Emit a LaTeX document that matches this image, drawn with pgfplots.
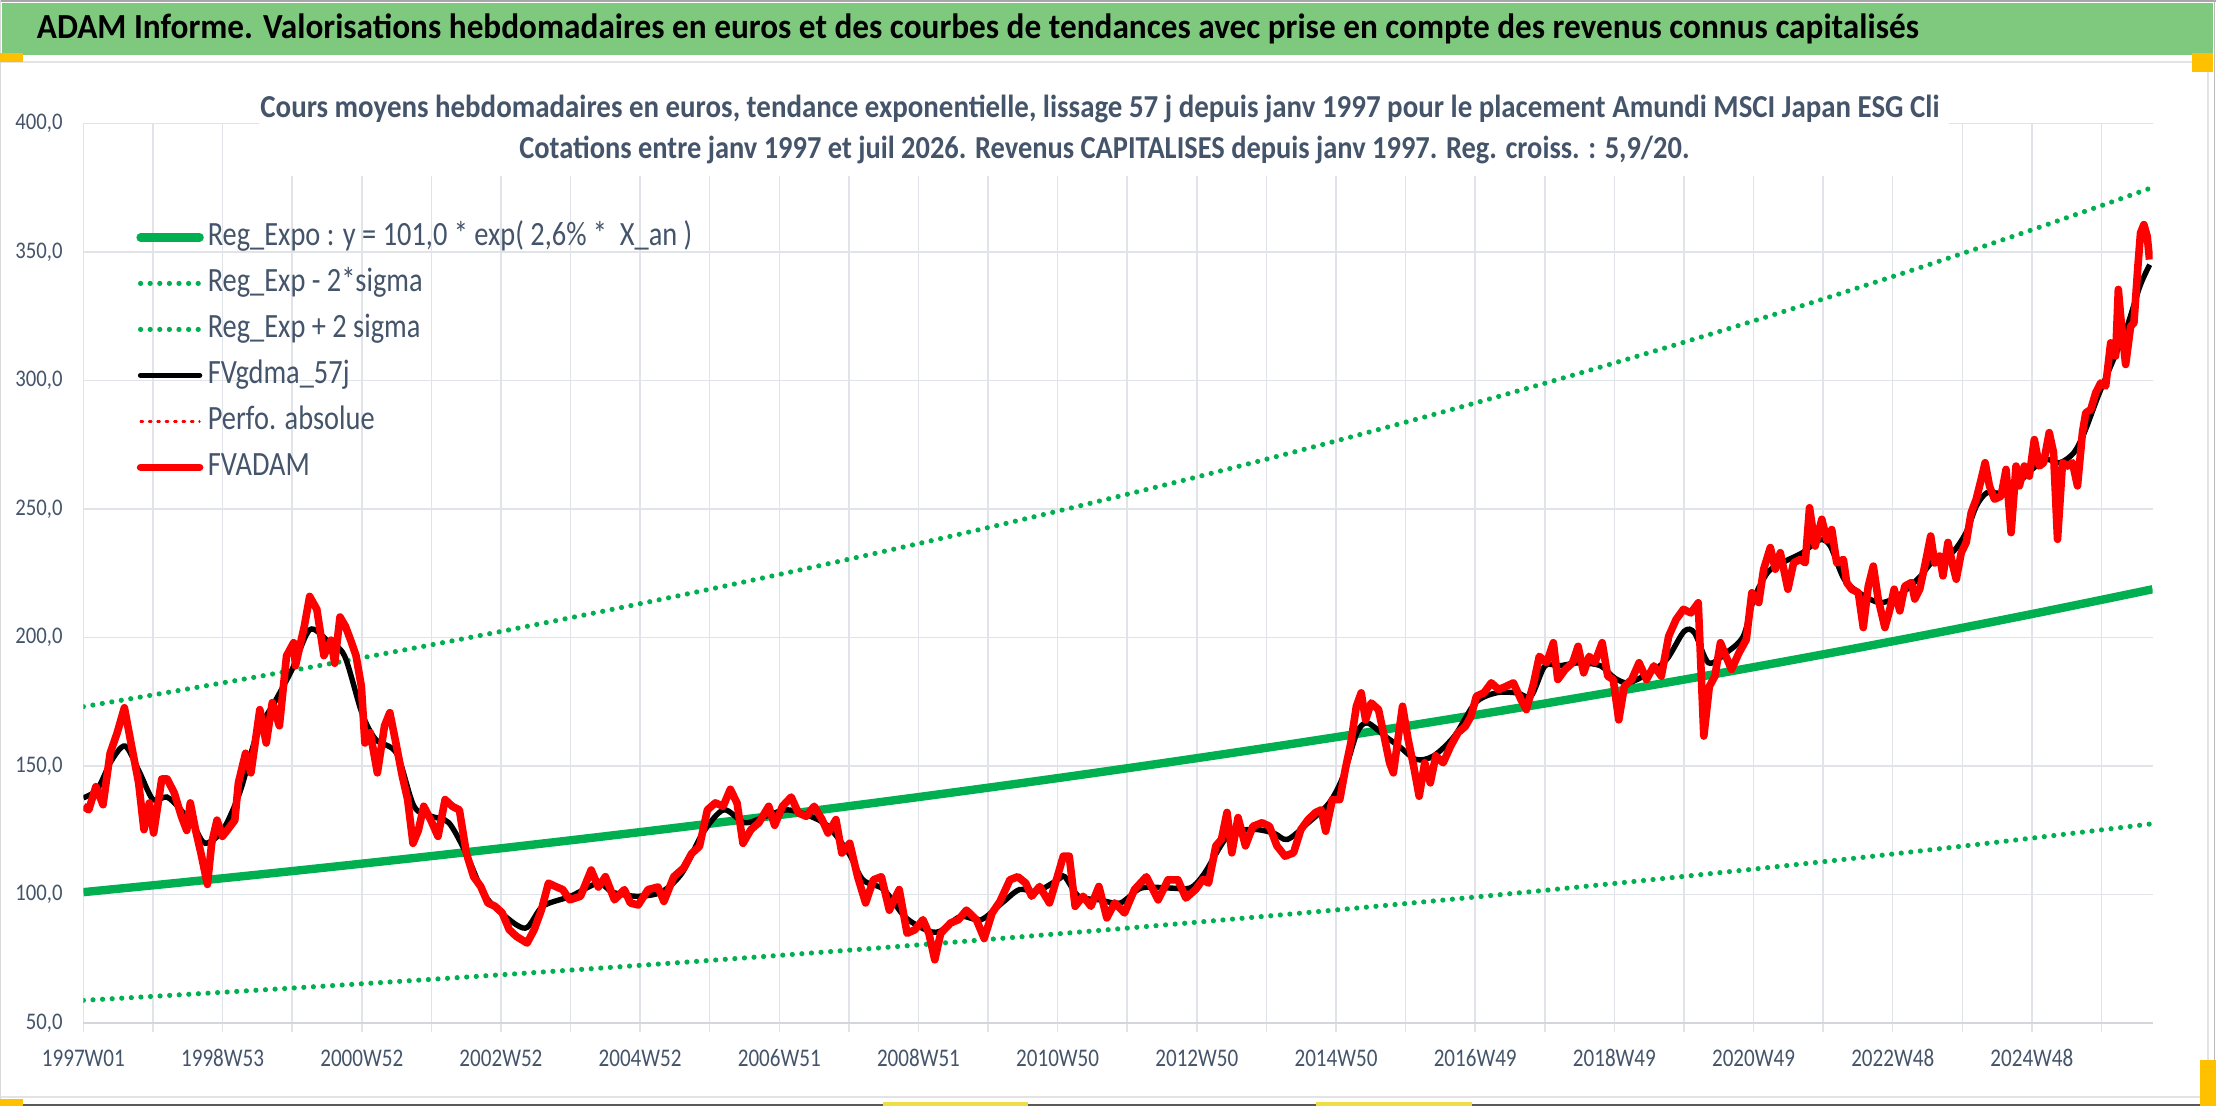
\documentclass[border=0pt]{standalone}
\usepackage{pgfplots}
\pgfplotsset{compat=1.18}
\usepackage{fontspec}
\setmainfont{Carlito}
\usepackage{graphicx}

\definecolor{slate}{HTML}{44546A}
\definecolor{gridc}{HTML}{E0E3E8}
\definecolor{basec}{HTML}{D3D6DB}
\definecolor{bannerg}{HTML}{7FC97F}
\definecolor{xlgreen}{HTML}{00B050}
\definecolor{handle}{HTML}{FFC000}
\definecolor{handle2}{HTML}{EEDD44}

\newcommand\xl[1]{\scalebox{0.83}[1]{#1}}
\newcommand\yl[1]{\scalebox{0.87}[1]{#1}}
\newcommand\lgd[1]{\scalebox{0.835}[1]{#1}}

\begin{document}
\begin{tikzpicture}
\useasboundingbox (0,0) rectangle (1108pt,553pt);
% ---------- background, frame and banner (pixel coordinates, y downward)
\begin{scope}[x=0.5pt,y=-0.5pt,shift={(0pt,553pt)}]
  \fill[white] (0,0) rectangle (2216,1106);
  \fill[bannerg] (2,3) rectangle (2213,55);
  \draw[gray!70, line width=1pt] (0,1) -- (2216,1);
  \draw[gray!30, line width=0.6pt] (0.6,0) -- (0.6,1106);
  \draw[gray!55, line width=0.8pt] (2214.5,0) -- (2214.5,1106);
  \draw[black!65, line width=1.2pt] (0,1104.8) -- (2216,1104.8);
  \draw[gray!22, line width=1.2pt] (1,62) -- (2208,62) -- (2208,1097) -- (1,1097);
  \fill[handle] (0,53) rectangle (23,62);
  \fill[handle] (2192,53) rectangle (2213,72);
  \fill[handle] (0,1099) rectangle (23,1106);
  \fill[handle] (2200,1060) rectangle (2216,1106);
  \fill[handle2] (883,1102) rectangle (1028,1106);
  \fill[handle2] (1316,1102) rectangle (1472,1106);
  \node[anchor=base west, inner sep=0pt, text=black] at (36.5,39)
    {\resizebox{941pt}{\height}{\fontsize{17.6}{18}\selectfont\bfseries ADAM Informe. Valorisations hebdomadaires en euros et des courbes de tendances avec prise en compte des revenus connus capitalisés}};
\end{scope}

\begin{axis}[
  at={(41.7pt,41.35pt)}, anchor=south west,
  scale only axis, width=1034.55pt, height=450pt,
  xmin=1997, xmax=2026.73, ymin=50, ymax=400,
  axis x line*=bottom, axis y line*=left,
  x axis line style={draw=basec, line width=1.2pt, -},
  y axis line style={draw=none},
  xtick={1997,...,2026},
  xticklabels={\xl{1997W01},,\xl{1998W53},,\xl{2000W52},,\xl{2002W52},,\xl{2004W52},,\xl{2006W51},,\xl{2008W51},,\xl{2010W50},,\xl{2012W50},,\xl{2014W50},,\xl{2016W49},,\xl{2018W49},,\xl{2020W49},,\xl{2022W48},,\xl{2024W48},},
  ytick={50,100,150,200,250,300,350,400},
  yticklabels={{\yl{50,0}},{\yl{100,0}},{\yl{150,0}},{\yl{200,0}},{\yl{250,0}},{\yl{300,0}},{\yl{350,0}},{\yl{400,0}}},
  grid=major, major grid style={draw=gridc, line width=0.75pt},
  tick align=outside, major tick length=4.2pt,
  xtick style={draw=gridc, line width=0.75pt},
  ytick style={draw=none},
  x tick label style={font=\fontsize{12.7}{13}\selectfont, text=slate, anchor=center, inner sep=0pt, yshift=-13.3pt},
  y tick label style={font=\fontsize{11.9}{12}\selectfont, text=slate, anchor=east, inner sep=0pt, xshift=-6pt},
  legend style={at={(axis description cs:0.02542,0.8914)}, anchor=north west, draw=none, fill=none,
     inner sep=0pt, row sep=7pt, column sep=2pt,
     nodes={inner sep=0pt, text height=12pt, text depth=4pt, font=\fontsize{17}{17}\selectfont, text=slate},
     cells={anchor=west}},
  legend image code/.code={\draw[#1, line cap=round] (1.5pt,0pt) -- (31pt,0pt);},
]
% Reg_Expo
\addplot[xlgreen, line width=4.2pt, smooth] coordinates {
(1997,101.00) (1998,103.66) (1999,106.39) (2000,109.19) (2001,112.07) (2002,115.02) (2003,118.05) (2004,121.16) (2005,124.35) (2006,127.63) (2007,130.99) (2008,134.44) (2009,137.98) (2010,141.62) (2011,145.35) (2012,149.18) (2013,153.11) (2014,157.14) (2015,161.28) (2016,165.53) (2017,169.89) (2018,174.37) (2019,178.96) (2020,183.67) (2021,188.51) (2022,193.48) (2023,198.57) (2024,203.81) (2025,209.17) (2026,214.69) (2026.73,218.79)};
\addlegendentry{\lgd{Reg\_Expo : y = 101,0 * exp( 2,6\% *\ \ X\_an )}}
% Reg_Exp - 2 sigma
\addplot[xlgreen, line width=2.6pt, dash pattern=on 0pt off 4.8pt, line cap=round, smooth] coordinates {
(1997,58.92) (1998,60.47) (1999,62.06) (2000,63.70) (2001,65.37) (2002,67.10) (2003,68.86) (2004,70.68) (2005,72.54) (2006,74.45) (2007,76.41) (2008,78.43) (2009,80.49) (2010,82.61) (2011,84.79) (2012,87.02) (2013,89.31) (2014,91.67) (2015,94.08) (2016,96.56) (2017,99.10) (2018,101.71) (2019,104.39) (2020,107.14) (2021,109.97) (2022,112.86) (2023,115.83) (2024,118.89) (2025,122.02) (2026,125.23) (2026.73,127.62)};
\addlegendentry{\lgd{Reg\_Exp - 2*sigma}}
% Reg_Exp + 2 sigma
\addplot[xlgreen, line width=2.6pt, dash pattern=on 0pt off 4.8pt, line cap=round, smooth] coordinates {
(1997,173.14) (1998,177.70) (1999,182.39) (2000,187.19) (2001,192.12) (2002,197.18) (2003,202.38) (2004,207.71) (2005,213.18) (2006,218.80) (2007,224.56) (2008,230.48) (2009,236.55) (2010,242.78) (2011,249.17) (2012,255.74) (2013,262.47) (2014,269.39) (2015,276.48) (2016,283.77) (2017,291.24) (2018,298.91) (2019,306.79) (2020,314.87) (2021,323.16) (2022,331.68) (2023,340.42) (2024,349.38) (2025,358.59) (2026,368.03) (2026.73,375.07)};
\addlegendentry{\lgd{Reg\_Exp + 2 sigma}}
% FVgdma_57j (smoothed)
\addplot[black, line width=2.7pt, smooth, tension=0.5] coordinates {
(1997.0,137.7) (1997.2,141) (1997.4,152) (1997.6,157.8) (1997.8,148) (1998.0,137) (1998.2,138) (1998.4,133) (1998.6,126) (1998.75,120) (1999.0,125) (1999.25,140) (1999.5,163) (1999.75,175) (2000.0,187.7) (2000.25,203) (2000.5,199) (2000.75,193) (2001.0,170.8) (2001.2,160.4) (2001.5,155) (2001.75,134.4) (2002.0,130.5) (2002.25,128) (2002.5,116) (2002.75,100.6) (2003.0,93) (2003.35,87) (2003.6,95.5) (2004.0,99.4) (2004.4,104.5) (2004.6,101) (2004.95,99.4) (2005.3,101) (2005.6,108.4) (2005.9,124) (2006.2,133) (2006.5,128) (2006.8,130.5) (2007.1,133) (2007.4,131) (2007.7,126.6) (2008.0,116) (2008.2,105.8) (2008.5,102) (2008.8,91.5) (2009.1,86.4) (2009.3,85.7) (2009.6,91.5) (2009.9,90.3) (2010.2,96.8) (2010.45,102) (2010.7,101.3) (2011.0,105.8) (2011.1,107) (2011.3,99.4) (2011.6,98) (2011.9,96.8) (2012.2,102.6) (2012.6,102.6) (2012.9,102.6) (2013.1,108) (2013.45,123) (2013.8,125.4) (2014.1,124) (2014.3,121.5) (2014.6,128) (2014.9,135.7) (2015.1,146) (2015.3,163) (2015.45,166.8) (2015.7,161.7) (2015.9,157.8) (2016.15,152.6) (2016.4,154) (2016.7,161.7) (2017.0,174.6) (2017.3,178.5) (2017.6,178.5) (2017.8,177.2) (2018.0,189) (2018.2,189) (2018.5,190.2) (2018.8,189) (2019.0,184.3) (2019.2,182.4) (2019.5,186.3) (2019.75,191.5) (2020.0,202.4) (2020.15,201.8) (2020.35,190.2) (2020.6,194) (2020.85,200.5) (2021.0,215) (2021.2,225.3) (2021.4,229) (2021.7,233) (2021.95,238) (2022.1,235.6) (2022.3,222.7) (2022.55,216.8) (2022.8,213.6) (2023.0,215) (2023.2,218.8) (2023.4,224) (2023.6,230.4) (2023.85,233) (2024.05,240.8) (2024.2,251.2) (2024.35,256.3) (2024.55,256.3) (2024.8,260.2) (2025.0,265.4) (2025.2,269.3) (2025.4,268) (2025.6,271.9) (2025.75,279.7) (2025.95,294) (2026.15,306.9) (2026.35,319.8) (2026.55,336.7) (2026.69,345)};
\addlegendentry{\lgd{FVgdma\_57j}}
% Perfo. absolue (legend only)
\addlegendimage{red, line width=1.1pt, dash pattern=on 1.2pt off 3pt}
\addlegendentry{\lgd{Perfo. absolue}}
% FVADAM
\addplot[red, line width=3.8pt, line join=round] coordinates {
(1997.000,134.4) (1997.077,133) (1997.179,142) (1997.282,135) (1997.384,155) (1997.486,163) (1997.589,172.7) (1997.691,158) (1997.794,143.5) (1997.870,125.3) (1997.947,135.7) (1998.009,124) (1998.126,145) (1998.203,145) (1998.306,139.6) (1998.408,130.5) (1998.485,125) (1998.536,135.7) (1998.613,125) (1998.690,116) (1998.782,104) (1998.843,120) (1998.920,129) (1998.997,122.7) (1999.074,125.3) (1999.176,129) (1999.227,143.5) (1999.330,155) (1999.407,147.4) (1999.535,172) (1999.627,159) (1999.714,174.7) (1999.816,165.7) (1999.919,192.9) (2000.021,198) (2000.047,189) (2000.175,204.5) (2000.251,216) (2000.354,211) (2000.456,193) (2000.559,199) (2000.610,190) (2000.687,208) (2000.763,204.5) (2000.840,199) (2000.917,193) (2000.994,181) (2001.045,159) (2001.122,163) (2001.224,147.4) (2001.327,165.7) (2001.403,170.8) (2001.480,160.4) (2001.583,146) (2001.659,137) (2001.736,120) (2001.813,125) (2001.890,134.4) (2001.992,129) (2002.095,122.7) (2002.197,137) (2002.300,134.4) (2002.402,133) (2002.504,116) (2002.607,107) (2002.709,103.2) (2002.812,96.8) (2002.914,95.5) (2003.016,93) (2003.119,86.4) (2003.221,83.8) (2003.375,81.2) (2003.477,86.4) (2003.580,94) (2003.682,104.5) (2003.784,103.2) (2003.887,102) (2003.989,98) (2004.143,99.4) (2004.296,109.6) (2004.399,103) (2004.501,107)
(2004.631,98) (2004.773,102) (2004.858,96.8) (2004.972,96) (2005.114,102) (2005.256,103) (2005.341,97.4) (2005.483,107) (2005.625,110.4) (2005.739,116) (2005.852,118.8) (2005.966,133) (2006.080,135.7) (2006.193,134.4) (2006.295,141) (2006.392,135.7) (2006.477,120) (2006.591,125.3) (2006.705,128) (2006.847,134.4) (2006.932,127) (2007.045,134.4) (2007.170,138) (2007.273,131.8) (2007.386,130.5) (2007.500,134.4) (2007.614,129.2) (2007.699,124) (2007.813,129.2) (2007.898,116.2) (2008.011,120) (2008.125,107) (2008.239,96.8) (2008.352,105.8) (2008.466,107) (2008.580,94) (2008.722,102) (2008.835,85) (2008.949,86.4) (2009.063,90.3) (2009.148,85) (2009.233,74.7) (2009.318,85) (2009.460,89) (2009.574,90.3) (2009.688,94) (2009.830,90.3) (2009.943,83) (2010.057,92.9) (2010.170,97.4) (2010.313,105.8) (2010.426,107) (2010.540,104.5) (2010.625,99.4) (2010.739,103.2) (2010.881,96.8) (2010.994,107) (2011.080,115) (2011.165,115) (2011.250,95.5) (2011.364,99.4) (2011.477,95.5) (2011.591,103.2) (2011.705,91) (2011.818,96.8) (2011.960,92.9) (2012.102,102) (2012.273,107) (2012.443,98) (2012.585,105.8) (2012.727,105.8) (2012.841,98.7)
(2012.980,102) (2013.087,106) (2013.166,104.5) (2013.272,119) (2013.352,121.5) (2013.432,132) (2013.501,116.3) (2013.591,130) (2013.697,119) (2013.804,126.6) (2013.936,128) (2014.042,126.6) (2014.149,119) (2014.266,115) (2014.388,116.3) (2014.494,125.4) (2014.600,129.3) (2014.706,132) (2014.786,133) (2014.850,124.7) (2014.945,137) (2015.052,137) (2015.131,148.7) (2015.211,159) (2015.291,173.3) (2015.360,178.5) (2015.423,168) (2015.503,174.6) (2015.609,172) (2015.689,161.7) (2015.768,151.3) (2015.822,147.4) (2015.901,163) (2015.954,173.3) (2016.034,160.4) (2016.114,150) (2016.193,138.3) (2016.273,151.3) (2016.353,143.5) (2016.432,154) (2016.538,151.3) (2016.645,157.8) (2016.751,163) (2016.857,165.5) (2016.937,169.4) (2017.016,177.2) (2017.123,178.5) (2017.229,182.4) (2017.335,179.8) (2017.441,181) (2017.547,182.4) (2017.654,176) (2017.733,172) (2017.839,182.4) (2017.919,192.7) (2018.025,190.2) (2018.121,198) (2018.185,183.7) (2018.291,187.6) (2018.397,190.2) (2018.477,196.6) (2018.557,186.3) (2018.636,192.7) (2018.716,190.2) (2018.822,198) (2018.902,185) (2018.981,183.7) (2019.061,168) (2019.141,181) (2019.247,183.7) (2019.353,190.2) (2019.459,183.7) (2019.566,189) (2019.672,185) (2019.778,200.5) (2019.884,207) (2019.990,211) (2020.097,209.6) (2020.203,213.5) (2020.283,161.7) (2020.362,181) (2020.442,185) (2020.522,198) (2020.601,192.7) (2020.681,187.6) (2020.787,194) (2020.893,199.2) (2020.973,217.4)
(2021.072,213.6) (2021.143,226.6) (2021.239,235) (2021.310,226.6) (2021.382,233) (2021.491,218.8) (2021.573,229.1) (2021.668,230.4) (2021.740,229.1) (2021.802,250.5) (2021.883,235.6) (2021.978,246) (2022.050,238) (2022.121,242) (2022.193,229) (2022.288,230.4) (2022.336,221.4) (2022.407,218.8) (2022.503,217.5) (2022.574,203.9) (2022.646,220) (2022.718,227.8) (2022.789,214.9) (2022.885,203.9) (2022.956,211) (2023.018,218.8) (2023.099,210.4) (2023.171,220) (2023.266,221.4) (2023.314,215) (2023.385,218.8) (2023.457,227.8) (2023.543,239.5) (2023.600,229) (2023.672,231.7) (2023.719,224) (2023.791,237) (2023.863,227.8) (2023.910,222.7) (2023.982,233) (2024.053,237) (2024.125,248.6) (2024.197,253.8) (2024.268,261.5) (2024.325,268) (2024.387,259) (2024.459,253.8) (2024.554,255) (2024.626,265.4) (2024.698,240.8) (2024.769,266.7) (2024.817,259) (2024.888,266.7) (2024.960,262.8) (2025.032,277) (2025.103,266.7) (2025.165,268) (2025.246,279.7) (2025.308,271.9) (2025.365,238.2) (2025.437,268) (2025.509,266.7) (2025.580,268) (2025.652,259) (2025.723,279.7) (2025.771,287.4) (2025.843,288.7) (2025.914,295.2) (2025.986,299) (2026.057,297.8) (2026.129,314.6) (2026.200,309.5) (2026.239,335.4) (2026.272,325) (2026.344,306.2) (2026.415,321) (2026.463,322.4) (2026.520,344.4) (2026.558,357.4) (2026.606,360.6) (2026.654,356) (2026.687,347)};
\addlegendentry{\lgd{FVADAM}}
\end{axis}

% ---------- chart title box over the plot area
\begin{scope}[x=0.5pt,y=-0.5pt,shift={(0pt,553pt)}]
  \fill[white] (259,86) rectangle (1949,176);
  \node[anchor=base west, inner sep=0pt, text=slate] at (260,117.5)
    {\resizebox{839.5pt}{\height}{\fontsize{16}{16}\selectfont\bfseries Cours moyens hebdomadaires en euros, tendance exponentielle, lissage 57 j depuis janv 1997 pour le placement Amundi MSCI Japan ESG Cli}};
  \node[anchor=base west, inner sep=0pt, text=slate] at (519,158.5)
    {\resizebox{585pt}{\height}{\fontsize{16}{16}\selectfont\bfseries Cotations entre janv 1997 et juil 2026. Revenus CAPITALISES depuis janv 1997. Reg. croiss. : 5,9/20.}};
\end{scope}
\end{tikzpicture}
\end{document}
